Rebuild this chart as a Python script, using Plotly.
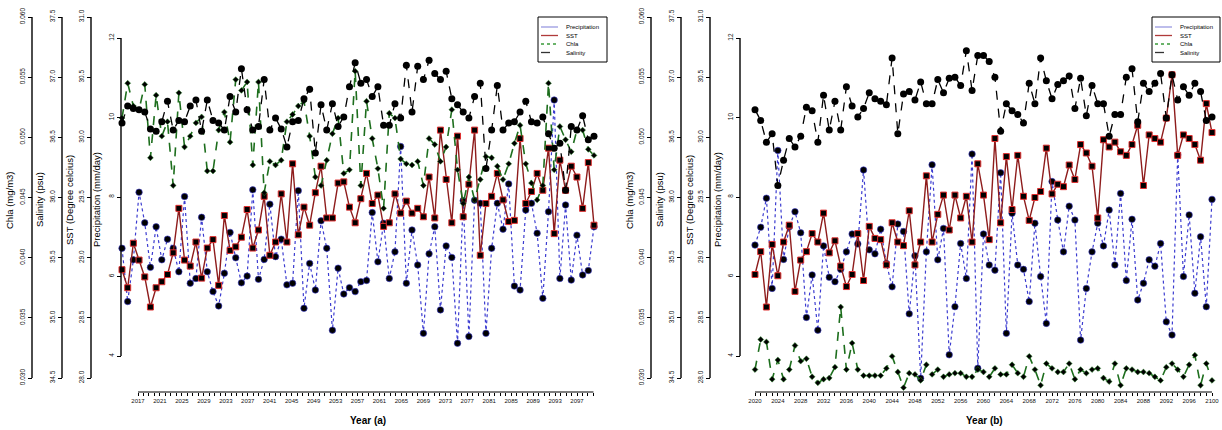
import plotly.graph_objects as go

W, H = 1222, 430

# ---------------- data ----------------
years_a = list(range(2017, 2101))
years_b = list(range(2020, 2101))

precip_a = [6.71, 5.37, 6.42, 8.12, 7.35, 6.23, 7.25, 6.42, 6.94, 6.71,
            6.12, 8.01, 5.83, 5.95, 7.49, 6.12, 5.62, 5.26, 6.08, 7.11,
            6.47, 5.84, 6.01, 8.18, 5.93, 6.43, 7.82, 6.50, 6.94, 5.79,
            5.83, 8.16, 5.20, 6.33, 5.66, 7.40, 6.71, 4.65, 6.21, 5.56,
            5.72, 5.62, 5.87, 5.90, 7.61, 6.37, 7.34, 5.95, 6.62, 9.27,
            5.83, 7.17, 6.29, 4.57, 6.57, 7.25, 5.16, 6.77, 6.48, 4.32,
            7.91, 4.49, 7.92, 7.84, 4.57, 6.71, 7.84, 7.19, 8.33, 5.76,
            5.66, 7.67, 7.84, 7.09, 5.45, 7.63, 10.44, 5.95, 7.80, 5.91,
            7.04, 6.04, 6.15, 7.25]
sst_a = [28.90, 28.75, 29.12, 28.98, 28.84, 28.59, 28.75, 28.80, 28.86, 29.04,
         29.41, 28.98, 28.93, 29.13, 28.83, 29.08, 29.15, 28.77, 29.35, 29.06,
         29.09, 29.17, 29.40, 29.08, 29.23, 29.51, 29.02, 29.13, 29.53, 29.13,
         29.78, 29.19, 29.42, 29.27, 29.54, 29.76, 29.33, 29.33, 29.62, 29.63,
         29.42, 29.29, 29.49, 29.70, 29.45, 29.52, 29.26, 29.29, 29.53, 29.37,
         29.47, 29.37, 29.41, 29.34, 29.67, 29.33, 30.06, 29.65, 29.29, 30.01,
         29.34, 29.61, 30.06, 29.02, 29.45, 29.51, 29.70, 29.48, 29.30, 29.31,
         29.99, 29.45, 29.55, 29.70, 29.56, 29.91, 29.20, 29.81, 29.56, 29.76,
         29.67, 29.41, 29.79, 29.27]
chla_a = [0.0516, 0.0545, 0.0526, 0.0523, 0.0544, 0.0483, 0.0535, 0.0501, 0.0513, 0.0460,
          0.0537, 0.0492, 0.0501, 0.0512, 0.0517, 0.0472, 0.0472, 0.0506, 0.0521, 0.0496,
          0.0548, 0.0539, 0.0546, 0.0477, 0.0546, 0.0454, 0.0480, 0.0477, 0.0481, 0.0513,
          0.0519, 0.0526, 0.0530, 0.0501, 0.0467, 0.0460, 0.0481, 0.0503, 0.0516, 0.0470,
          0.0473, 0.0555, 0.0460, 0.0530, 0.0499, 0.0474, 0.0441, 0.0520, 0.0516, 0.0482,
          0.0478, 0.0477, 0.0480, 0.0460, 0.0499, 0.0494, 0.0480, 0.0492, 0.0523, 0.0473,
          0.0445, 0.0467, 0.0448, 0.0465, 0.0484, 0.0483, 0.0476, 0.0465, 0.0478, 0.0495,
          0.0510, 0.0478, 0.0462, 0.0448, 0.0460, 0.0545, 0.0473, 0.0509, 0.0498, 0.0488,
          0.0506, 0.0506, 0.0490, 0.0485]
sal_a = [36.62, 36.76, 36.74, 36.73, 36.71, 36.57, 36.55, 36.63, 36.80, 36.56,
         36.64, 36.63, 36.76, 36.81, 36.55, 36.81, 36.64, 36.62, 36.56, 36.84,
         36.71, 37.07, 36.73, 36.56, 36.59, 36.98, 36.56, 36.66, 36.57, 36.42,
         36.63, 36.64, 36.82, 36.90, 36.37, 36.77, 36.56, 36.78, 36.59, 36.67,
         36.92, 37.12, 36.95, 36.98, 36.84, 36.92, 36.60, 36.60, 36.78, 36.66,
         37.10, 36.71, 37.09, 36.98, 37.14, 37.03, 36.98, 37.05, 36.82, 36.77,
         36.71, 36.66, 36.84, 36.95, 36.24, 36.56, 36.93, 36.56, 36.62, 36.63,
         36.71, 36.80, 36.63, 36.62, 36.67, 36.53, 36.41, 36.45, 36.06, 36.59,
         36.56, 36.68, 36.48, 36.51]

precip_b = [6.79, 7.24, 7.97, 5.70, 9.17, 6.43, 7.25, 7.63, 7.10, 4.97,
            6.04, 4.65, 6.77, 5.98, 5.87, 6.18, 6.62, 7.07, 6.82, 8.68,
            6.67, 6.57, 7.19, 6.33, 5.74, 7.32, 7.13, 5.06, 6.52, 3.44,
            6.62, 8.81, 6.42, 7.21, 4.03, 5.24, 6.83, 5.95, 9.08, 3.69,
            7.07, 6.29, 6.16, 8.61, 4.57, 7.59, 6.29, 6.18, 5.37, 7.34,
            6.00, 4.82, 8.39, 7.42, 6.62, 7.77, 7.42, 4.40, 5.70, 6.62,
            7.34, 6.77, 7.67, 6.29, 8.09, 5.90, 7.44, 5.41, 5.83, 6.42,
            6.26, 6.83, 4.86, 4.53, 9.06, 6.00, 7.55, 5.58, 7.00, 5.24,
            7.94]
sst_b = [28.86, 29.05, 28.59, 29.11, 28.85, 29.13, 29.27, 28.72, 28.98, 29.05,
         29.20, 29.13, 29.37, 29.04, 29.14, 28.93, 28.76, 28.86, 29.20, 28.81,
         29.26, 29.16, 29.15, 28.94, 29.29, 29.13, 29.10, 29.39, 28.94, 29.13,
         29.68, 29.13, 29.36, 29.52, 29.23, 29.52, 29.33, 29.51, 29.13, 29.78,
         29.52, 29.15, 29.99, 29.29, 29.84, 29.40, 29.85, 29.51, 29.31, 29.50,
         29.55, 29.91, 29.53, 29.61, 29.59, 29.77, 29.65, 29.94, 29.87, 29.76,
         29.33, 29.98, 29.92, 29.96, 29.88, 29.85, 29.94, 30.10, 29.60, 30.02,
         29.99, 29.96, 30.16, 30.52, 29.85, 30.02, 29.99, 29.94, 29.81, 30.28,
         30.04]
chla_b = [0.0307, 0.0332, 0.0330, 0.0299, 0.0315, 0.0299, 0.0307, 0.0327, 0.0314, 0.0316,
          0.0301, 0.0296, 0.0299, 0.0300, 0.0309, 0.0359, 0.0307, 0.0329, 0.0307, 0.0302,
          0.0302, 0.0302, 0.0302, 0.0308, 0.0318, 0.0305, 0.0292, 0.0304, 0.0303, 0.0298,
          0.0311, 0.0303, 0.0307, 0.0301, 0.0303, 0.0304, 0.0304, 0.0301, 0.0301, 0.0307,
          0.0305, 0.0301, 0.0308, 0.0303, 0.0303, 0.0311, 0.0304, 0.0301, 0.0318, 0.0307,
          0.0294, 0.0312, 0.0308, 0.0305, 0.0305, 0.0312, 0.0299, 0.0307, 0.0304, 0.0307,
          0.0308, 0.0300, 0.0297, 0.0312, 0.0294, 0.0308, 0.0307, 0.0305, 0.0305, 0.0304,
          0.0301, 0.0298, 0.0309, 0.0312, 0.0307, 0.0301, 0.0311, 0.0319, 0.0294, 0.0312,
          0.0298]
sal_b = [36.73, 36.64, 36.46, 36.53, 36.10, 36.31, 36.49, 36.42, 36.51, 36.75,
         36.72, 36.46, 36.85, 36.56, 36.80, 36.56, 36.92, 36.76, 36.67, 36.74,
         36.87, 36.82, 36.80, 36.77, 37.16, 36.53, 36.86, 36.88, 36.81, 36.96,
         36.78, 36.78, 36.98, 36.87, 36.99, 37.00, 36.93, 37.22, 36.89, 37.18,
         37.18, 37.13, 37.00, 36.55, 36.78, 36.72, 36.69, 36.62, 36.95, 36.78,
         37.16, 36.97, 36.82, 36.94, 36.97, 37.01, 36.74, 36.99, 36.68, 36.93,
         36.78, 36.78, 36.51, 36.69, 36.69, 37.00, 37.07, 36.63, 36.95, 36.88,
         36.95, 37.03, 36.66, 37.02, 36.81, 36.92, 36.85, 36.95, 36.88, 36.64,
         36.67]

chla_ticks = [0.030, 0.035, 0.040, 0.045, 0.050, 0.055, 0.060]
chla_text = ["0.030", "0.035", "0.040", "0.045", "0.050", "0.055", "0.060"]
sal_ticks = [34.5, 35.0, 35.5, 36.0, 36.5, 37.0, 37.5]
sal_text = ["34.5", "35.0", "35.5", "36.0", "36.5", "37.0", "37.5"]
sst_ticks = [28.0, 28.5, 29.0, 29.5, 30.0, 30.5, 31.0]
sst_text = ["28.0", "28.5", "29.0", "29.5", "30.0", "30.5", "31.0"]
pr_ticks = [4, 6, 8, 10, 12]
pr_text = ["4", "6", "8", "10", "12"]

series_names = ["Precipitation", "SST", "Chla", "Salinity"]
axis_titles = ["Chla (mg/m3)", "Salinity (psu)", "SST (Degree celcius)", "Precipitation (mm/day)"]

# ---------------- layout helpers ----------------
FONT = "Liberation Sans, Arial, sans-serif"
Y_TOP, Y_BOT = 5, 392           # plot area in px (vertical)

def px(x):
    return x / W

def py(y):
    return 1 - y / H

def yrange(v_lo, p_lo, v_hi, p_hi):
    s = (v_hi - v_lo) / (p_lo - p_hi)
    return [v_lo - (Y_BOT - p_lo) * s, v_hi + (p_hi - Y_TOP) * s]

def xrange(v0, p0, v1, p1, d0, d1):
    s = (v1 - v0) / (p1 - p0)
    return [v0 + (d0 - p0) * s, v0 + (d1 - p0) * s]

ydom = [py(Y_BOT), py(Y_TOP)]

fig = go.Figure()

styles = {
    "Precipitation": dict(mode="lines+markers",
                          line=dict(color="#3b3bd0", width=1.2, dash="dot"),
                          marker=dict(symbol="circle", size=6.5, color="black",
                                      line=dict(color="#3b3bd0", width=0.6))),
    "SST": dict(mode="lines+markers",
                line=dict(color="#8e1c1c", width=1.4),
                marker=dict(symbol="square", size=6, color="black",
                            line=dict(color="#e03030", width=1))),
    "Chla": dict(mode="lines+markers",
                 line=dict(color="#1d6e1d", width=1.6, dash="dash"),
                 marker=dict(symbol="diamond", size=4.5, color="black",
                             line=dict(color="#2a8a2a", width=0.5))),
    "Salinity": dict(mode="lines+markers",
                     line=dict(color="black", width=1.3, dash="dash"),
                     marker=dict(symbol="circle", size=7, color="black")),
}

panels = [
    dict(years=years_a, data=[precip_a, sst_a, chla_a, sal_a],
         xd="x", xt="x2", ys=["y", "y2", "y3", "y4"],
         spines=dict(Chla=32, Salinity=62, SST=91, Precipitation=121),
         titles_x=[10, 40, 70, 97], dom=(115, 600),
         data_anchor=(2017, 122, 2100, 594), tick_anchor=(2017, 138, 2097, 577),
         tick_first=2017, tick_last=2100, xlabel="Year (a)", xlabel_x=368,
         legend_box=(538, 607)),
    dict(years=years_b, data=[precip_b, sst_b, chla_b, sal_b],
         xd="x3", xt="x3", ys=["y5", "y6", "y7", "y8"],
         spines=dict(Chla=651, Salinity=681, SST=710, Precipitation=740),
         titles_x=[630, 660, 690, 718], dom=(745, 1218),
         data_anchor=(2020, 755, 2100, 1212), tick_anchor=(2020, 755, 2100, 1212),
         tick_first=2020, tick_last=2100, xlabel="Year (b)", xlabel_x=984,
         legend_box=(1152, 1220)),
]

tick_info = {
    "Precipitation": (pr_ticks, pr_text, (4, 356, 12, 38)),
    "SST": (sst_ticks, sst_text, (28.0, 378, 31.0, 17)),
    "Chla": (chla_ticks, chla_text, (0.030, 378, 0.060, 17)),
    "Salinity": (sal_ticks, sal_text, (34.5, 378, 37.5, 17)),
}

shapes = []
annotations = []
layout_axes = {}

def axname(a):
    return "xaxis" + a[1:] if a.startswith("x") else "yaxis" + a[1:]

for p in panels:
    base_y = p["ys"][0]
    for name, vals, ya in zip(series_names, p["data"], p["ys"]):
        st = styles[name]
        fig.add_trace(go.Scatter(x=p["years"], y=vals, xaxis=p["xd"], yaxis=ya,
                                 name=name, showlegend=False, **st))
    for k, (name, ya) in enumerate(zip(series_names, p["ys"])):
        tv, tt, (vlo, plo, vhi, phi) = tick_info[name]
        d = dict(domain=ydom, range=yrange(vlo, plo, vhi, phi),
                 anchor="free", position=px(p["spines"][name]), side="left",
                 tickmode="array", tickvals=tv, ticktext=tt, tickangle=-90,
                 ticks="outside", ticklen=4, tickwidth=1, tickcolor="black",
                 tickfont=dict(size=6.5, color="#111111", family=FONT),
                 showline=False, showgrid=False, zeroline=False)
        if k > 0:
            d["overlaying"] = base_y
        layout_axes[axname(ya)] = d
        shapes.append(dict(type="line", xref="paper", yref=ya,
                           x0=px(p["spines"][name]), x1=px(p["spines"][name]),
                           y0=tv[0], y1=tv[-1], line=dict(color="black", width=1.4)))
    d0, d1 = p["dom"]
    v0, p0, v1, p1 = p["data_anchor"]
    tvals = list(range(p["tick_first"], p["tick_last"] + 1))
    ttext = [str(y) if (y - p["tick_first"]) % 4 == 0 else "" for y in tvals]
    xdata = dict(domain=[px(d0), px(d1)], range=xrange(v0, p0, v1, p1, d0, d1),
                 anchor="free", position=py(Y_BOT), showgrid=False, zeroline=False,
                 showline=False)
    tick_style = dict(tickmode="array", tickvals=tvals, ticktext=ttext,
                      ticks="outside", ticklen=3, tickwidth=0.8, tickcolor="black",
                      tickangle=0, tickfont=dict(size=6, color="#111111", family=FONT))
    if p["xd"] == p["xt"]:
        xdata.update(tick_style)
        layout_axes[axname(p["xd"])] = xdata
    else:
        xdata.update(dict(showticklabels=False, ticks=""))
        layout_axes[axname(p["xd"])] = xdata
        tv0, tp0, tv1, tp1 = p["tick_anchor"]
        xt = dict(overlaying=p["xd"], anchor="free", position=py(Y_BOT), side="bottom",
                  range=xrange(tv0, tp0, tv1, tp1, d0, d1),
                  showgrid=False, zeroline=False, showline=False)
        xt.update(tick_style)
        layout_axes[axname(p["xt"])] = xt
    shapes.append(dict(type="line", xref=p["xt"], yref="paper",
                       x0=p["tick_first"], x1=p["tick_last"], y0=py(Y_BOT), y1=py(Y_BOT),
                       line=dict(color="black", width=1)))
    annotations.append(dict(text="<b>" + p["xlabel"] + "</b>", xref="paper", yref="paper",
                            x=px(p["xlabel_x"]), y=py(420), showarrow=False,
                            font=dict(size=10, color="black", family=FONT),
                            xanchor="center", yanchor="middle"))
    for t, tx in zip(axis_titles, p["titles_x"]):
        annotations.append(dict(text=t, xref="paper", yref="paper", x=px(tx), y=py(200),
                                textangle=-90, showarrow=False,
                                font=dict(size=9.5, color="black", family=FONT),
                                xanchor="center", yanchor="middle"))
    lx0, lx1 = p["legend_box"]
    shapes.append(dict(type="rect", xref="paper", yref="paper",
                       x0=px(lx0), x1=px(lx1), y0=py(62), y1=py(17),
                       line=dict(color="black", width=1), fillcolor="white"))
    leg_styles = [("#9a9ae0", "solid"), ("#b03a3a", "solid"),
                  ("#3a9a3a", "dot"), ("#333333", "dash")]
    for j, (name, (c, dsh)) in enumerate(zip(series_names, leg_styles)):
        yy = 27 + j * 8.5
        shapes.append(dict(type="line", xref="paper", yref="paper",
                           x0=px(lx0 + 3), x1=px(lx0 + 20), y0=py(yy), y1=py(yy),
                           line=dict(color=c, width=1.3, dash=dsh)))
        annotations.append(dict(text=name, xref="paper", yref="paper",
                                x=px(lx0 + 26), y=py(yy), showarrow=False,
                                font=dict(size=6, color="black", family=FONT),
                                xanchor="left", yanchor="middle"))

fig.update_layout(
    width=W, height=H,
    margin=dict(l=0, r=0, t=0, b=0),
    paper_bgcolor="white", plot_bgcolor="rgba(0,0,0,0)",
    showlegend=False,
    font=dict(family=FONT, color="black"),
    shapes=shapes, annotations=annotations,
    **layout_axes,
)

fig.write_html("out.html")
